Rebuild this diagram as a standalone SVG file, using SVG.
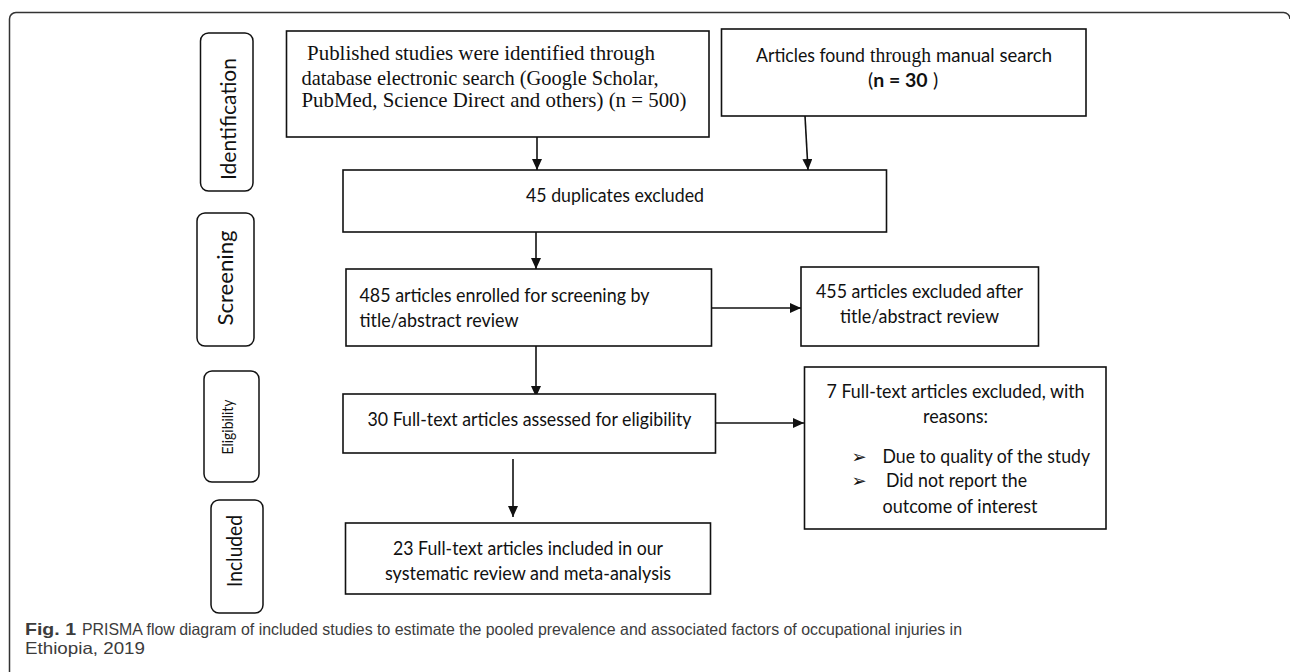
<svg xmlns="http://www.w3.org/2000/svg" width="1290" height="672" viewBox="0 0 1290 672">
<style>
.box{fill:#fff;stroke:#111;stroke-width:1.6}
.pill{fill:#fff;stroke:#111;stroke-width:1.5}
.con{stroke:#111;stroke-width:1.6;fill:none}
.s{font-family:Lato,"Open Sans",sans-serif;font-size:19.5px;fill:#111}
.serif{font-family:"Liberation Serif","Times New Roman",serif;font-size:21px;fill:#111}
.lab{font-family:Lato,"Open Sans",sans-serif;fill:#111}
.cap{font-family:"Liberation Sans",Arial,sans-serif;font-size:16.5px;fill:#3c3c3c}
.bul{font-family:"DejaVu Sans",sans-serif;font-size:18px;fill:#111}
</style>
<defs>
<marker id="ah" markerUnits="userSpaceOnUse" markerWidth="12" markerHeight="10" refX="11" refY="5" orient="auto">
<path d="M0,0 L11,5 L0,10 z" fill="#111"/>
</marker>
</defs>
<path d="M9.5,672 V19 A6.5,6.5 0 0 1 16,12.5 H1283 A6.5,6.5 0 0 1 1290,19" fill="none" stroke="#333" stroke-width="1.5"/>

<g id="pill-identification">
<rect class="pill" x="200.5" y="33" width="52.5" height="158" rx="8"/>
<text class="lab" font-size="21" transform="translate(236,119) rotate(-90)" text-anchor="middle" textLength="122" lengthAdjust="spacingAndGlyphs">Identification</text>
</g>
<g id="pill-screening">
<rect class="pill" x="197" y="213" width="57" height="133" rx="8"/>
<text class="lab" font-size="21" transform="translate(232.5,278) rotate(-90)" text-anchor="middle" textLength="95" lengthAdjust="spacingAndGlyphs">Screening</text>
</g>
<g id="pill-eligibility">
<rect class="pill" x="204" y="371" width="55" height="111" rx="8"/>
<text class="lab" font-size="16" transform="translate(233,427) rotate(-90)" text-anchor="middle" textLength="55" lengthAdjust="spacingAndGlyphs">Eligibility</text>
</g>
<g id="pill-included">
<rect class="pill" x="211" y="500" width="52" height="113" rx="8"/>
<text class="lab" font-size="21" transform="translate(242,551) rotate(-90)" text-anchor="middle" textLength="72" lengthAdjust="spacingAndGlyphs">Included</text>
</g>

<g id="connectors">
<line class="con" x1="537" y1="137" x2="537" y2="170" marker-end="url(#ah)"/>
<line class="con" x1="805" y1="116" x2="808" y2="170" marker-end="url(#ah)"/>
<line class="con" x1="536" y1="232" x2="536" y2="269" marker-end="url(#ah)"/>
<line class="con" x1="536" y1="346" x2="536" y2="397" marker-end="url(#ah)"/>
<line class="con" x1="513" y1="459" x2="513" y2="517" marker-end="url(#ah)"/>
<line class="con" x1="711.5" y1="308" x2="801" y2="308" marker-end="url(#ah)"/>
<line class="con" x1="715.5" y1="423" x2="804" y2="423" marker-end="url(#ah)"/>
</g>

<g id="node-published">
<rect class="box" x="286.5" y="31" width="422.5" height="106"/>
<text class="serif" x="307" y="60" textLength="348" lengthAdjust="spacingAndGlyphs">Published studies were identified through</text>
<text class="serif" x="301.5" y="85" textLength="357" lengthAdjust="spacingAndGlyphs">database electronic search (Google Scholar,</text>
<text class="serif" x="301.5" y="107" textLength="385" lengthAdjust="spacingAndGlyphs">PubMed, Science Direct and others) (n = 500)</text>
</g>

<g id="node-manual">
<rect class="box" x="721.5" y="29" width="364.5" height="87"/>
<text class="s" x="756" y="62" textLength="109" lengthAdjust="spacingAndGlyphs">Articles found</text>
<text class="serif" x="870" y="62" textLength="61" lengthAdjust="spacingAndGlyphs">through</text>
<text class="s" x="936" y="62" textLength="116" lengthAdjust="spacingAndGlyphs">manual search</text>
<text class="s" x="868" y="87">(<tspan font-weight="bold">n = 30</tspan></text>
<text class="s" x="933" y="87">)</text>
</g>

<g id="node-duplicates">
<rect class="box" x="343" y="170" width="543.5" height="62"/>
<text class="s" x="615" y="202" text-anchor="middle" textLength="178" lengthAdjust="spacingAndGlyphs">45 duplicates excluded</text>
</g>

<g id="node-screening">
<rect class="box" x="346" y="269" width="365.5" height="77"/>
<text class="s" x="359.5" y="302" textLength="290" lengthAdjust="spacingAndGlyphs">485 articles enrolled for screening by</text>
<text class="s" x="359.5" y="327" textLength="159" lengthAdjust="spacingAndGlyphs">title/abstract review</text>
</g>

<g id="node-excluded-screening">
<rect class="box" x="801" y="267" width="237.5" height="79"/>
<text class="s" x="919.5" y="298" text-anchor="middle" textLength="207" lengthAdjust="spacingAndGlyphs">455 articles excluded after</text>
<text class="s" x="919.5" y="323" text-anchor="middle" textLength="159" lengthAdjust="spacingAndGlyphs">title/abstract review</text>
</g>

<g id="node-eligibility">
<rect class="box" x="343" y="394" width="372.5" height="59"/>
<text class="s" x="529.5" y="426" text-anchor="middle" textLength="324" lengthAdjust="spacingAndGlyphs">30 Full-text articles assessed for eligibility</text>
</g>

<g id="node-excluded-fulltext">
<rect class="box" x="804.5" y="367" width="301.5" height="162"/>
<text class="s" x="955.5" y="398" text-anchor="middle" textLength="258" lengthAdjust="spacingAndGlyphs">7 Full-text articles excluded, with</text>
<text class="s" x="955.5" y="423" text-anchor="middle" textLength="65" lengthAdjust="spacingAndGlyphs">reasons:</text>
<text class="bul" x="851.5" y="463">➢</text>
<text class="s" x="882.5" y="463" textLength="207.5" lengthAdjust="spacingAndGlyphs">Due to quality of the study</text>
<text class="bul" x="851.5" y="487">➢</text>
<text class="s" x="886" y="487" textLength="141" lengthAdjust="spacingAndGlyphs">Did not report the</text>
<text class="s" x="882.5" y="513" textLength="155" lengthAdjust="spacingAndGlyphs">outcome of interest</text>
</g>

<g id="node-included">
<rect class="box" x="345.5" y="523" width="365" height="71"/>
<text class="s" x="528" y="555" text-anchor="middle" textLength="270" lengthAdjust="spacingAndGlyphs">23 Full-text articles included in our</text>
<text class="s" x="528" y="580" text-anchor="middle" textLength="286" lengthAdjust="spacingAndGlyphs">systematic review and meta-analysis</text>
</g>

<g id="caption">
<text class="cap" x="25" y="635" font-weight="bold" fill="#222" textLength="51" lengthAdjust="spacingAndGlyphs">Fig. 1</text>
<text class="cap" x="82" y="635" textLength="880" lengthAdjust="spacingAndGlyphs">PRISMA flow diagram of included studies to estimate the pooled prevalence and associated factors of occupational injuries in</text>
<text class="cap" x="25" y="654" textLength="120" lengthAdjust="spacingAndGlyphs">Ethiopia, 2019</text>
</g>
</svg>
